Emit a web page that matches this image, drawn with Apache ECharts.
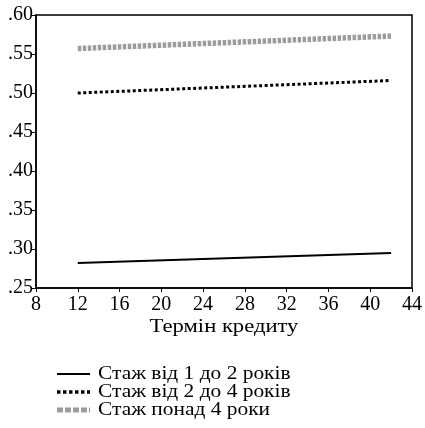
<!DOCTYPE html>
<html><head><meta charset="utf-8">
<script src="https://cdn.jsdelivr.net/npm/echarts@6/dist/echarts.min.js"></script>
<style>html,body{margin:0;padding:0;background:#fff}#c{width:425px;height:428px}</style>
</head><body><div id="c"></div>
<script>
const xTerm = [12, 42];
const s1 = [0.282, 0.295];
const s2 = [0.500, 0.516];
const s3 = [0.557, 0.573];
const names = ['Стаж від 1 до 2 років', 'Стаж від 2 до 4 років', 'Стаж понад 4 роки'];
const xTitle = 'Термін кредиту';
const F = '"Liberation Serif", "Times New Roman", serif';
const styles = [
  {color:'#000', width:2, type:'solid'},
  {color:'#000', width:3, type:[3,2.5]},
  {color:'#9c9c9c', width:5.5, type:[3.5,1.5]}
];
const chart = echarts.init(document.getElementById('c'));
function mk(vals){ return xTerm.map((x,i)=>[x, vals[i]]); }
const legendRows = [374, 392, 410];
const gfx = [];
names.forEach((n,i)=>{
  gfx.push({type:'line', shape:{x1:57, y1:legendRows[i], x2:90, y2:legendRows[i]},
    style:{stroke:styles[i].color, lineWidth:i===2?5:(i===1?3.5:styles[i].width), lineDash:i===0?null:(i===1?[3.5,2.5]:[6,2])}});
  gfx.push({type:'text', x:98, y:legendRows[i], scaleX:1.19, style:{text:n, font:'18px ' + F, fill:'#000', textAlign:'left', textVerticalAlign:'middle', verticalAlign:'middle'}});
});
gfx.push({type:'text', x:224, y:327, scaleX:1.19, style:{text:xTitle, font:'19px ' + F, fill:'#000', textAlign:'center', align:'center', textVerticalAlign:'middle', verticalAlign:'middle'}});
chart.setOption({
  animation:false,
  textStyle:{fontFamily:F},
  grid:{left:36, right:13, top:15, bottom:140, show:true, borderColor:'#000', borderWidth:1.5},
  xAxis:{type:'value', min:8, max:44, interval:4,
    axisLine:{lineStyle:{color:'#000', width:1.5}}, axisTick:{show:true, length:4, lineStyle:{color:'#000'}},
    axisLabel:{fontFamily:F, fontSize:20, color:'#000', margin:7}, splitLine:{show:false}},
  yAxis:{type:'value', min:0.25, max:0.60, interval:0.05,
    axisLine:{lineStyle:{color:'#000', width:1.5}}, axisTick:{show:true, length:4, lineStyle:{color:'#000'}},
    axisLabel:{fontFamily:F, fontSize:20, color:'#000', margin:3, formatter:v=>v.toFixed(2).replace(/^0/,'')},
    splitLine:{show:false}},
  graphic:gfx,
  series:[
    {name:names[0], type:'line', data:mk(s1), showSymbol:false, symbol:'none', lineStyle:styles[0]},
    {name:names[1], type:'line', data:mk(s2), showSymbol:false, symbol:'none', lineStyle:styles[1]},
    {name:names[2], type:'line', data:mk(s3), showSymbol:false, symbol:'none', lineStyle:styles[2]}
  ]
});
</script></body></html>
